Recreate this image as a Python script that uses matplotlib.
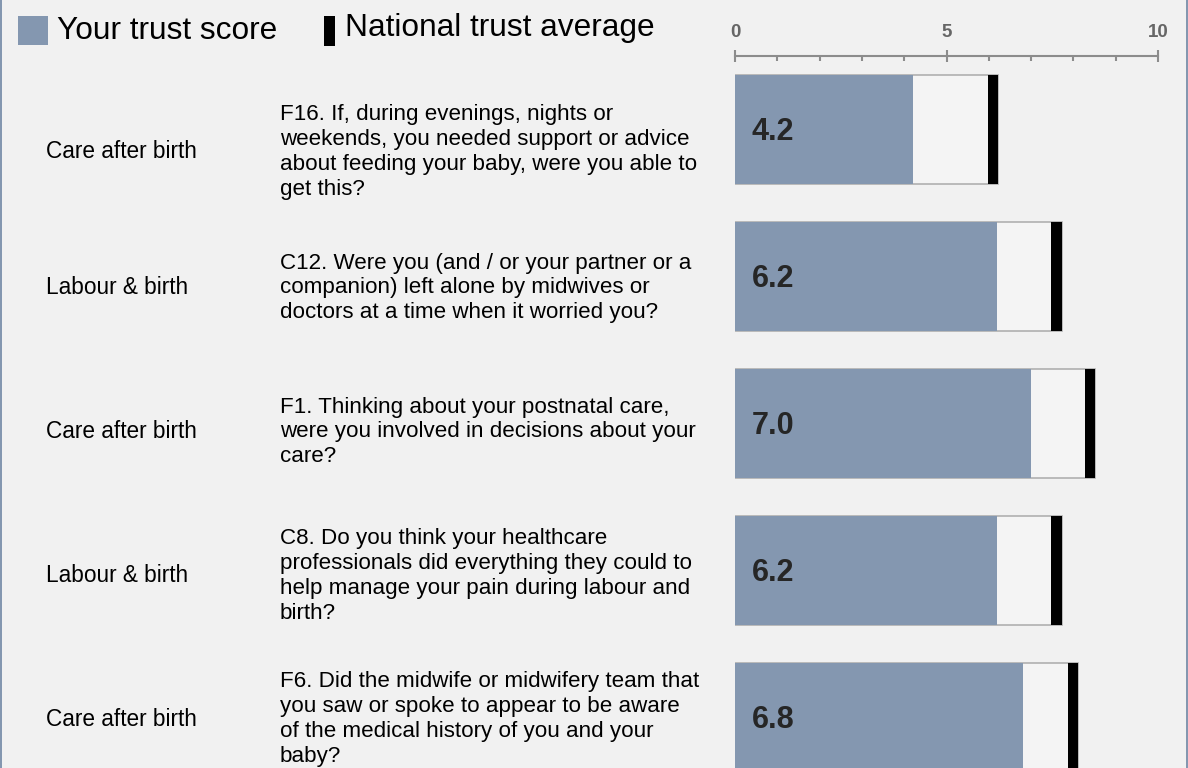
#!/usr/bin/env python3
import matplotlib
matplotlib.use('Agg')
import matplotlib.pyplot as plt
from matplotlib.ticker import MultipleLocator
from matplotlib.patches import Rectangle

plt.rcParams['font.family'] = ['Liberation Sans', 'DejaVu Sans']

sections = ['Care after birth', 'Labour & birth', 'Care after birth',
            'Labour & birth', 'Care after birth']
questions = [
    'F16. If, during evenings, nights or\nweekends, you needed support or advice\n'
    'about feeding your baby, were you able to\nget this?',
    'C12. Were you (and / or your partner or a\ncompanion) left alone by midwives or\n'
    'doctors at a time when it worried you?',
    'F1. Thinking about your postnatal care,\nwere you involved in decisions about your\ncare?',
    'C8. Do you think your healthcare\nprofessionals did everything they could to\n'
    'help manage your pain during labour and\nbirth?',
    'F6. Did the midwife or midwifery team that\nyou saw or spoke to appear to be aware\n'
    'of the medical history of you and your\nbaby?',
]
trust_score = [4.2, 6.2, 7.0, 6.2, 6.8]
national_avg = [6.1, 7.6, 8.4, 7.6, 8.0]

bg = '#f1f1f1'
fill = '#8497b0'
W, H = 1188, 768

fig = plt.figure(figsize=(W / 100, H / 100), dpi=100, facecolor=bg)

# bar area: 0 at x=735px, 10 at x=1158px; rows 147px apart, first centre at 129.5px
ax = fig.add_axes([735 / W, 0, (1158 - 735) / W, 1])
ax.set_facecolor('none')
ax.set_xlim(0, 10)
row_h = 147
ax.set_ylim((H - 129.5) / row_h, -129.5 / row_h)

bar_h = 109 / row_h
mark_w = 0.24
for i, (s, n) in enumerate(zip(trust_score, national_avg)):
    ax.barh(i, n + mark_w / 2, height=bar_h, color='#f4f4f4', edgecolor='#b0b0b0', linewidth=1.2)
    ax.barh(i, s, height=bar_h, color=fill, linewidth=0)
    ax.barh(i, mark_w, left=n - mark_w / 2, height=bar_h, color='black', linewidth=0)
    ax.text(0.4, i + 0.02, f'{s:.1f}', ha='left', va='center', fontsize=22,
            fontweight='bold', color='#262626')

for side in ['left', 'right', 'bottom']:
    ax.spines[side].set_visible(False)
ax.spines['top'].set_position(('data', -0.5))
ax.spines['top'].set_color('#8c8c8c')
ax.spines['top'].set_linewidth(1.5)
ax.xaxis.set_ticks_position('top')
ax.xaxis.set_label_position('top')
ax.set_xticks([0, 5, 10])
ax.xaxis.set_minor_locator(MultipleLocator(1))
ax.tick_params(axis='x', which='major', direction='inout', length=8, width=1.5,
               color='#8c8c8c', labelcolor='#666666', labelsize=13.5, pad=7)
ax.tick_params(axis='x', which='minor', direction='in', length=3.5, width=1.5,
               color='#8c8c8c')
for lbl in ax.get_xticklabels():
    lbl.set_fontweight('bold')
ax.set_yticks([])

# left-hand text columns
text_y = [152, 288, 432, 576, 719]
for sec, q, y in zip(sections, questions, text_y):
    fig.text(46 / W, 1 - y / H, sec, ha='left', va='center', fontsize=16.3, color='black')
    fig.text(280 / W, 1 - y / H, q, ha='left', va='center', fontsize=16.1,
             color='black', linespacing=1.23)

# legend
fig.patches.append(Rectangle((18 / W, 1 - 45 / H), 30 / W, 29 / H, transform=fig.transFigure,
                             color=fill, linewidth=0))
fig.text(57 / W, 1 - 31 / H, 'Your trust score', ha='left', va='center', fontsize=22.8)
fig.patches.append(Rectangle((324 / W, 1 - 46 / H), 11 / W, 30 / H, transform=fig.transFigure,
                             color='black', linewidth=0))
fig.text(345 / W, 1 - 28 / H, 'National trust average', ha='left', va='center', fontsize=22.8)

# side borders
fig.patches.append(Rectangle((0, 0), 2 / W, 1, transform=fig.transFigure, color=fill, linewidth=0))
fig.patches.append(Rectangle((1 - 2 / W, 0), 2 / W, 1, transform=fig.transFigure, color=fill,
                             linewidth=0))

fig.savefig('out.png', dpi=100, facecolor=bg)
